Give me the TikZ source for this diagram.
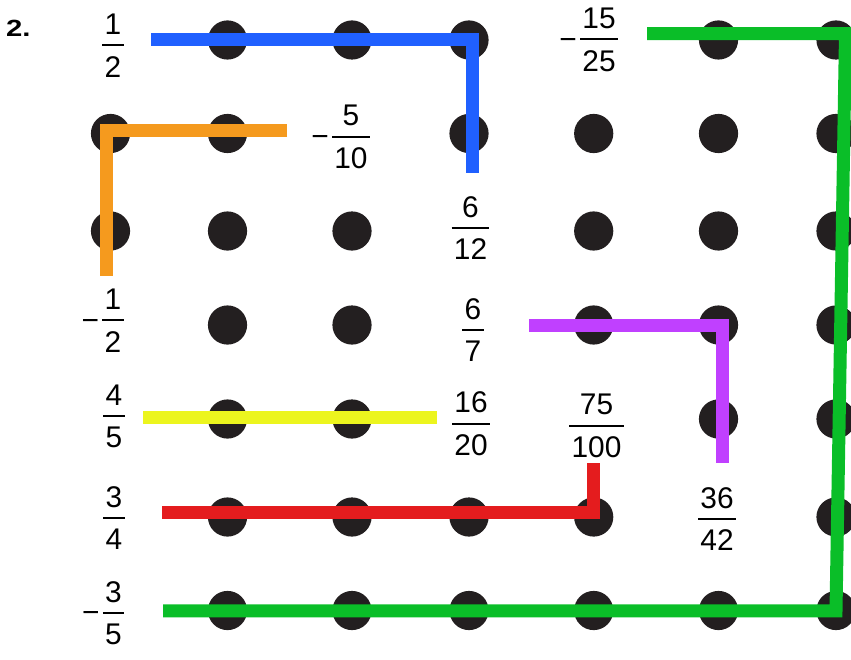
\documentclass[tikz,border=0pt]{standalone}
\usepackage{fontspec}
\setmainfont{Liberation Sans}
\definecolor{dotc}{HTML}{231F20}
\definecolor{cblue}{HTML}{2060FF}
\definecolor{corange}{HTML}{F59A1E}
\definecolor{cgreen}{HTML}{0ABE28}
\definecolor{cyellow}{HTML}{ECF51E}
\definecolor{cred}{HTML}{E41C1E}
\definecolor{cpurple}{HTML}{C040FF}
\newcommand\myfrac[2]{%
  \begingroup
  \setbox0\hbox{#1}\setbox2\hbox{#2}%
  \dimen0=\wd0 \ifdim\wd2>\dimen0 \dimen0=\wd2\fi
  \advance\dimen0 by 4.5pt
  \vbox{\offinterlineskip\hbox to\dimen0{\hss\box0\hss}\kern9.5pt\hrule height 2.2pt width\dimen0\kern10pt\hbox to\dimen0{\hss\box2\hss}}%
  \endgroup}
\newcommand\mynegfrac[2]{\hbox{\llap{\raise22.1pt\hbox{−}\kern3.4pt}\myfrac{#1}{#2}}}
\tikzset{
  dotstyle/.style={fill=dotc},
  pathline/.style={line width=13bp, line cap=butt, line join=miter},
  fraclabel/.style={inner sep=0pt, font=\fontsize{30}{36}\selectfont},
}
\begin{document}
\begin{tikzpicture}[x=1bp,y=-1bp]
\useasboundingbox (0,0) rectangle (851,660);
% grid coordinates
\foreach \c/\x in {1/110.5,2/227.5,3/352,4/469,5/593.7,6/718.5,7/836}{
  \foreach \r/\y in {1/40,2/133.5,3/231,4/325,5/419,6/517,7/610.5}{
    \coordinate (g\c\r) at (\x,\y);
  }
}
% dots
\foreach \p in {21,31,41,61,71,
                12,22,42,52,62,72,
                13,23,33,53,63,73,
                24,34,54,64,74,
                25,35,65,75,
                26,36,46,56,76,
                27,37,47,57,67,77}{
  \fill[dotstyle] (g\p) circle[radius=19.6bp];
}
% label
\node[anchor=base west, inner sep=0pt, font=\fontsize{23.5}{26}\selectfont\bfseries] (num) at (6,37) {\scalebox{1.25}[1]{2.}};
% fractions
\node[fraclabel] (f1) at (113,45.5) {\myfrac{1}{2}};
\node[fraclabel] (f2) at (351,137) {\mynegfrac{5}{10}};
\node[fraclabel] (f3) at (470.5,228) {\myfrac{6}{12}};
\node[fraclabel] (f4) at (599,39.5) {\mynegfrac{15}{25}};
\node[fraclabel] (f5) at (113,320.7) {\mynegfrac{1}{2}};
\node[fraclabel] (f6) at (473,330) {\myfrac{6}{7}};
\node[fraclabel] (f7) at (114,416.7) {\myfrac{4}{5}};
\node[fraclabel] (f8) at (471,424) {\myfrac{16}{20}};
\node[fraclabel] (f9) at (596.5,426) {\myfrac{75}{100}};
\node[fraclabel] (f10) at (114,518) {\myfrac{3}{4}};
\node[fraclabel] (f11) at (717,519) {\myfrac{36}{42}};
\node[fraclabel] (f12) at (113.5,613.3) {\mynegfrac{3}{5}};
% path coordinates
\coordinate (b1) at (151,39.5); \coordinate (b2) at (472.7,39.5); \coordinate (b3) at (472.7,173.3);
\coordinate (o1) at (287,130.8); \coordinate (o2) at (106,130.8); \coordinate (o3) at (106,276);
\coordinate (gr1) at (647,33.7); \coordinate (gr2) at (845.5,33.7); \coordinate (gr3) at (836,610.8); \coordinate (gr4) at (163,610.8);
\coordinate (y1) at (143,417.3); \coordinate (y2) at (437,417.3);
\coordinate (r1) at (162,512.7); \coordinate (r2) at (593,512.7); \coordinate (r3) at (593,463.3);
\coordinate (p1) at (529,325.7); \coordinate (p2) at (722,325.7); \coordinate (p3) at (722,463.3);
% paths
\draw[pathline, cblue] (b1) -- (b2) -- (b3);
\draw[pathline, corange] (o1) -- (o2) -- (o3);
\draw[pathline, cgreen] (gr1) -- (gr2) -- (gr3) -- (gr4);
\draw[pathline, cyellow] (y1) -- (y2);
\draw[pathline, cred] (r1) -- (r2) -- (r3);
\draw[pathline, cpurple] (p1) -- (p2) -- (p3);
\end{tikzpicture}
\end{document}
